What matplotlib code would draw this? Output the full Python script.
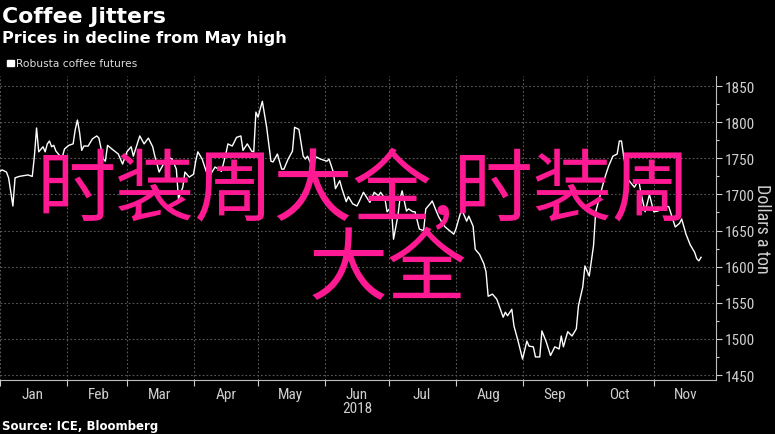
import matplotlib
matplotlib.use("Agg")
import matplotlib.pyplot as plt
from matplotlib import font_manager
import pandas as pd

# ---- data ----
day_offsets = [0, 1, 3, 4, 6, 7, 9, 13, 15, 16, 17, 18, 20, 21, 22, 23, 24, 25, 26, 28,
               29, 30, 32, 34, 35, 36, 37, 38, 39, 41, 43, 45, 46, 48, 49, 50, 52, 55, 57, 59,
               61, 62, 64, 65, 67, 69, 71, 72, 74, 76, 78, 80, 82, 83, 85, 86, 88, 90, 91, 92,
               94, 96, 98, 100, 103, 105, 106, 108, 110, 112, 113, 115, 117, 118, 119, 120, 122, 123, 124, 126,
               127, 129, 131, 132, 134, 136, 137, 139, 141, 142, 143, 145, 147, 149, 152, 153, 155, 156, 158, 159,
               161, 162, 164, 166, 167, 169, 172, 174, 176, 177, 179, 180, 182, 183, 185, 186, 187, 189, 190, 192,
               193, 195, 197, 198, 200, 201, 203, 204, 206, 207, 209, 211, 212, 214, 215, 217, 218, 220, 221, 223,
               225, 226, 227, 229, 231, 234, 235, 236, 238, 239, 241, 243, 245, 246, 248, 249, 251, 252, 254, 256,
               258, 260, 261, 262, 264, 266, 268, 269, 271, 272, 274, 276, 277, 279, 281, 283, 285, 287, 288, 289,
               290, 292, 295, 297, 298, 300, 302, 304, 306, 309, 311, 314, 316, 317, 319, 321, 323, 324, 325, 326]
prices = [1732, 1734, 1731, 1723, 1684, 1723, 1725, 1727, 1725, 1753, 1792, 1759, 1766, 1759, 1770, 1774, 1766, 1768, 1760, 1753,
          1752, 1763, 1768, 1770, 1790, 1803, 1786, 1761, 1767, 1767, 1777, 1781, 1778, 1749, 1746, 1768, 1763, 1756, 1742, 1759,
          1766, 1753, 1772, 1781, 1770, 1778, 1766, 1753, 1731, 1742, 1752, 1749, 1735, 1694, 1710, 1731, 1724, 1728, 1746, 1759,
          1749, 1731, 1728, 1738, 1732, 1756, 1770, 1767, 1779, 1781, 1761, 1770, 1760, 1759, 1814, 1807, 1829, 1811, 1793, 1746,
          1745, 1756, 1735, 1735, 1749, 1760, 1793, 1790, 1753, 1749, 1753, 1739, 1752, 1749, 1746, 1749, 1731, 1708, 1719, 1708,
          1690, 1697, 1687, 1684, 1690, 1703, 1689, 1703, 1698, 1703, 1694, 1676, 1683, 1638, 1670, 1694, 1705, 1677, 1680, 1676,
          1676, 1652, 1650, 1680, 1687, 1691, 1676, 1669, 1659, 1655, 1650, 1645, 1652, 1673, 1677, 1663, 1670, 1656, 1624, 1617,
          1604, 1593, 1559, 1562, 1555, 1530, 1537, 1532, 1541, 1518, 1496, 1472, 1497, 1490, 1489, 1475, 1475, 1511, 1496, 1477,
          1489, 1486, 1504, 1489, 1510, 1504, 1514, 1546, 1572, 1601, 1587, 1629, 1676, 1698, 1721, 1739, 1753, 1756, 1774, 1774,
          1753, 1721, 1710, 1720, 1703, 1676, 1700, 1676, 1677, 1684, 1683, 1655, 1660, 1666, 1645, 1630, 1620, 1611, 1608, 1613]
y_ticks = [1450, 1500, 1550, 1600, 1650, 1700, 1750, 1800, 1850]
month_labels = ["Jan", "Feb", "Mar", "Apr", "May", "Jun", "Jul", "Aug", "Sep", "Oct", "Nov"]

title = "Coffee Jitters"
subtitle = "Prices in decline from May high"
legend_label = "Robusta coffee futures"
source = "Source: ICE, Bloomberg"
overlay_line1 = "时装周大全,时装周"
overlay_line2 = "大全"

# ---- fonts ----
available = {f.name for f in font_manager.fontManager.ttflist}
narrow = "DejaVu Sans"
for cand in ["Liberation Sans Narrow", "Roboto Condensed", "DejaVu Sans Condensed"]:
    if cand in available:
        narrow = cand
        break
cjk = ["Noto Sans CJK SC", "DejaVu Sans"]
tick_size = 11 if narrow != "DejaVu Sans" else 9
ylab_size = 13 if narrow != "DejaVu Sans" else 10

dates = pd.Timestamp("2018-01-01") + pd.to_timedelta(day_offsets, unit="D")

fig = plt.figure(figsize=(7.75, 4.35), dpi=100, facecolor="black")
ax = fig.add_axes([0.0, 0.124, 0.924, 0.699])
ax.set_facecolor("black")

ax.plot(dates, prices, color="white", lw=1.0, zorder=3)

ax.set_xlim(pd.Timestamp("2018-01-01"), pd.Timestamp("2018-11-30"))
ax.set_ylim(1443, 1864)

# y axis on the right
ax.yaxis.tick_right()
ax.yaxis.set_label_position("right")
ax.set_yticks(y_ticks)
ax.set_yticks([v + 25 for v in y_ticks[:-1]], minor=True)
ax.tick_params(axis="y", which="major", colors="#cfcfcf", labelsize=tick_size, length=4, width=0.8, pad=2)
ax.tick_params(axis="y", which="minor", colors="#cfcfcf", length=2, width=0.8)
for lbl in ax.get_yticklabels():
    lbl.set_fontfamily(narrow)
ax.set_ylabel("Dollars a ton", color="#cfcfcf", fontsize=ylab_size, fontfamily=narrow,
              rotation=-90, labelpad=12)

# x axis: month boundaries as major ticks, labels at mid-month
month_starts = pd.date_range("2018-01-01", "2018-11-01", freq="MS")
ax.set_xticks(month_starts)
ax.set_xticklabels([])
mid = month_starts + pd.Timedelta(days=15)
ax.set_xticks(mid, minor=True)
ax.set_xticklabels(month_labels, minor=True)
ax.tick_params(axis="x", which="major", colors="#cfcfcf", length=4, width=0.8)
ax.tick_params(axis="x", which="minor", colors="#cfcfcf", length=0, labelsize=tick_size, pad=5)
for lbl in ax.get_xticklabels(minor=True):
    lbl.set_fontfamily(narrow)

ax.text(pd.Timestamp("2018-06-16"), -0.07, "2018", transform=ax.get_xaxis_transform(),
        ha="center", va="top", color="#cfcfcf", fontsize=tick_size, fontfamily=narrow)

ax.grid(True, which="major", color="#5a5a5a", linestyle=(0, (1.5, 2)), lw=0.8)
for side in ["left", "top"]:
    ax.spines[side].set_visible(False)
ax.spines["right"].set_color("#bdbdbd")
ax.spines["bottom"].set_color("#bdbdbd")

# titles
fig.text(0.003, 0.985, title, color="white", fontsize=15.8, fontweight="bold", va="top", ha="left")
fig.text(0.003, 0.928, subtitle, color="white", fontsize=11.5, fontweight="bold", va="top", ha="left")
fig.patches.append(plt.Rectangle((0.009, 0.846), 0.0085, 0.014, transform=fig.transFigure,
                                 color="white", figure=fig))
fig.text(0.021, 0.853, legend_label, color="#dddddd", fontsize=7.7, va="center", ha="left")
fig.text(0.003, 0.005, source, color="white", fontsize=8.5, fontweight="bold", va="bottom", ha="left")

# overlay text
fig.text(364 / 775, 1 - 192 / 435, overlay_line1, color="#ff1a94", fontsize=57,
         family=cjk, fontweight="medium", ha="center", va="center", zorder=10)
fig.text(388 / 775, 1 - 272 / 435, overlay_line2, color="#ff1a94", fontsize=57,
         family=cjk, fontweight="medium", ha="center", va="center", zorder=10)

fig.savefig("out.png", dpi=100, facecolor="black")
